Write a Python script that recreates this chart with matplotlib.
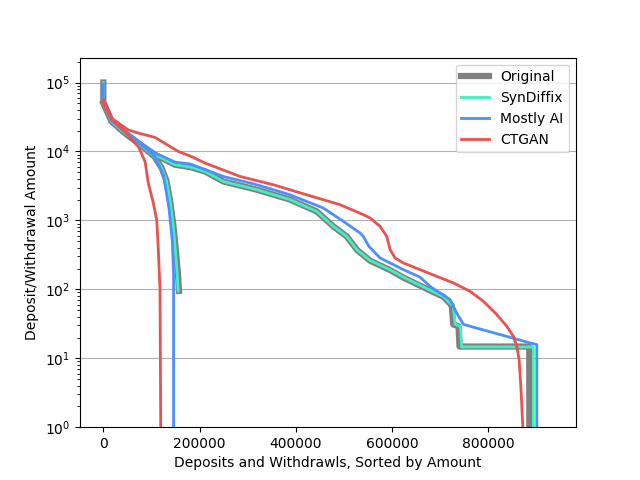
import matplotlib
matplotlib.use('Agg')
import matplotlib.pyplot as plt

### valeurs (x = rang, y = montant)

# Original
orig_dep_x = [0, 17500, 45100, 72700, 90000, 107000, 121000, 131000, 139000, 146000, 151000, 155000, 157300]
orig_dep_y = [50000, 27200, 18500, 13200, 10500, 8300, 5800, 3800, 1900, 800, 350, 170, 95]
orig_wd_x = [0, 0, 17500, 45100, 72700, 107400, 149000, 180200, 211300, 249400, 318800, 388000, 443400,
             477900, 505800, 526600, 554300, 595800, 623400, 679000, 706500, 720400, 724000, 727000,
             738000, 740000, 885000, 885000]
orig_wd_y = [100000, 52000, 27200, 18500, 13200, 8950, 6420, 5940, 5130, 3670, 2790, 2000, 1350,
             818, 586, 376, 260, 190, 148, 96, 78, 62, 58, 31, 29, 14.8, 14.8, 0.5]

# SynDiffix
syn_dep_x = [0, 17500, 45100, 72700, 90000, 107000, 121000, 131000, 139000, 145500, 150000, 153500, 155500]
syn_dep_y = [50000, 27200, 18500, 13200, 10500, 8300, 5800, 3800, 1900, 800, 350, 170, 95]
syn_wd_x = [0, 0, 17500, 45100, 72700, 107400, 149000, 180200, 211300, 249400, 318800, 388000, 443400,
            477900, 505800, 526600, 554300, 595800, 623400, 679000, 706500, 721000, 727000, 731000,
            742000, 744500, 893500, 893500]
syn_wd_y = [100000, 52000, 27200, 18500, 13200, 8950, 6420, 5940, 5130, 3670, 2790, 2000, 1350,
            818, 586, 376, 262, 192, 150, 97, 79, 62, 58, 31, 29, 14.6, 14.6, 0.5]

# Mostly AI
mai_dep_x = [0, 17500, 45100, 72700, 90000, 107000, 124700, 136500, 143400, 146000, 146000]
mai_dep_y = [50000, 28000, 19000, 13500, 10800, 8500, 4600, 1510, 497, 163, 0.5]
mai_wd_x = [0, 0, 17500, 45100, 72700, 107400, 149000, 180200, 249400, 318800, 388000, 457200, 498700,
            533400, 540300, 552000, 575000, 623400, 658100, 679000, 720400, 734300, 748100, 886700,
            900600, 900600]
mai_wd_y = [95000, 52000, 28500, 19500, 14000, 9500, 7000, 6600, 4340, 3290, 2350, 1510, 968,
            656, 585, 417, 285, 193, 150, 110, 71, 45, 31, 16.7, 15.8, 0.5]

# CTGAN
ctg_dep_x = [0, 17500, 34700, 50000, 72700, 86700, 93500, 103900, 111000, 114300, 117800, 119300, 119500]
ctg_dep_y = [50000, 29000, 22500, 17500, 11800, 7160, 3480, 1790, 1020, 376, 99, 1.0, 0.5]
ctg_wd_x = [0, 17500, 31200, 51900, 72700, 107400, 121300, 155800, 183700, 211300, 284100, 353300,
            422700, 491900, 540300, 554300, 575000, 588900, 595800, 606200, 623400, 658100, 692800,
            727300, 762000, 789600, 817500, 838300, 852000, 859000, 863800, 867400, 871500, 873000]
ctg_wd_y = [56000, 30400, 25900, 20500, 18500, 16000, 14000, 10000, 8400, 6800, 4340, 3290,
            2350, 1690, 1210, 1083, 818, 586, 376, 285, 241, 193, 154,
            124, 93.5, 67, 43, 29, 20.8, 14.9, 9.6, 3.9, 1.03, 0.5]

fig, ax = plt.subplots(figsize=(6.4, 4.8), dpi=100)

ax.plot(orig_wd_x, orig_wd_y, c='gray', lw=4.5, label='Original')
ax.plot(orig_dep_x, orig_dep_y, c='gray', lw=4.5)
ax.plot(syn_wd_x, syn_wd_y, c='#40F0C0', lw=2, label='SynDiffix')
ax.plot(syn_dep_x, syn_dep_y, c='#40F0C0', lw=2)
ax.plot(mai_wd_x, mai_wd_y, c='#4A90FF', lw=2, label='Mostly AI')
ax.plot(mai_dep_x, mai_dep_y, c='#4A90FF', lw=2)
ax.plot(ctg_wd_x, ctg_wd_y, c='#E8524F', lw=2, label='CTGAN')
ax.plot(ctg_dep_x, ctg_dep_y, c='#E8524F', lw=2)

ax.set_yscale('log')
ax.set_ylim(1, 2.3e5)
ax.set_xlim(-48400, 982000)
ax.grid(True, axis='y')
ax.legend(loc='upper right')
ax.set_xlabel('Deposits and Withdrawls, Sorted by Amount')
ax.set_ylabel('Deposit/Withdrawal Amount')

plt.savefig('out.png', dpi=100)
